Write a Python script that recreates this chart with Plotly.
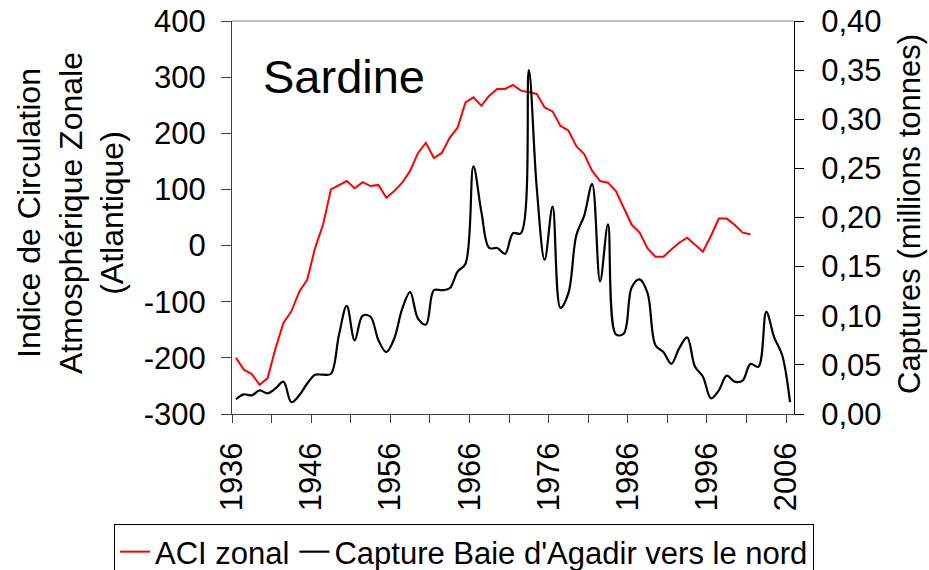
import plotly.graph_objects as go

# ---------------- data ----------------
years_aci = list(range(1936, 2002))
aci_zonal = [-200, -221, -229, -248, -236, -183, -138, -117, -82, -61,
             -4, 37, 100, 108, 115, 102, 113, 106, 108, 85,
             97, 112, 133, 165, 183, 156, 165, 192, 210, 255,
             264, 249, 267, 279, 279, 286, 276, 273, 270, 246,
             239, 213, 205, 177, 163, 133, 115, 112, 97, 67,
             37, 23, -5, -20, -20, -7, 5, 14, 2, -11,
             17, 48, 48, 37, 23, 20]

years_capture = list(range(1936, 2007))
capture = [0.015, 0.020, 0.019, 0.024, 0.021, 0.026, 0.033, 0.012, 0.019, 0.031,
           0.040, 0.040, 0.041, 0.080, 0.110, 0.075, 0.100, 0.099, 0.075, 0.063,
           0.077, 0.107, 0.124, 0.097, 0.091, 0.126, 0.126, 0.128, 0.145, 0.153,
           0.252, 0.206, 0.169, 0.169, 0.163, 0.184, 0.184, 0.350, 0.230, 0.157,
           0.211, 0.108, 0.123, 0.182, 0.202, 0.234, 0.135, 0.193, 0.081, 0.082,
           0.129, 0.137, 0.123, 0.070, 0.063, 0.051, 0.067, 0.078, 0.048, 0.038,
           0.016, 0.024, 0.039, 0.033, 0.034, 0.051, 0.048, 0.104, 0.078, 0.060,
           0.012]

year_labels = ["1936", "1946", "1956", "1966", "1976", "1986", "1996", "2006"]
left_ticks = [-300, -200, -100, 0, 100, 200, 300, 400]
left_ticktext = ["-300", "-200", "-100", "0", "100", "200", "300", "400"]

FONT = "Liberation Sans, Arial, sans-serif"
FS = 31

fig = go.Figure()
fig.add_trace(go.Scatter(x=years_aci, y=aci_zonal, mode="lines", name="ACI zonal",
                         line=dict(color="#ff0000", width=2), yaxis="y"))
fig.add_trace(go.Scatter(x=years_capture, y=capture, mode="lines",
                         name="Capture Baie d'Agadir vers le nord",
                         line=dict(color="#000000", width=2.2, shape="spline", smoothing=1.0),
                         yaxis="y2"))

major_x = [1935.5 + 10 * i for i in range(len(year_labels))]
minor_x = [1940.5 + 10 * i for i in range(7)]

# page body margin is removed by the post script, so figure coords = screen coords
W, H = 929, 570
L, R, T, B = 232, 794, 21, 414
pw, ph = R - L, B - T

def px_x(x):
    return (x - L) / pw

def px_y(y):
    return 1 - (y - T) / ph

fig.update_layout(
    width=W, height=H,
    margin=dict(l=L, r=W - R, t=T, b=H - B, autoexpand=False),
    paper_bgcolor="white", plot_bgcolor="white",
    font=dict(family=FONT, size=FS, color="black"),
    separators=", ",
    showlegend=True,
    hovermode=False,
    legend=dict(orientation="h", x=px_x(114), y=px_y(524), xanchor="left", yanchor="top",
                bordercolor="black", borderwidth=1, font=dict(size=FS),
                bgcolor="white", itemwidth=30),
    xaxis=dict(range=[1935.5, 2006.5], tickmode="array", tickvals=major_x, ticktext=year_labels,
               tickangle=-90, ticks="outside", ticklen=8, tickcolor="#404040", tickwidth=1,
               minor=dict(tickvals=minor_x, ticks="outside", ticklen=8, tickcolor="#404040", tickwidth=1),
               showline=True, linecolor="#404040", linewidth=1, showgrid=False, zeroline=False,
               ticklabelstandoff=7, automargin=False, ticklabeloverflow="allow"),
    yaxis=dict(range=[-300, 400], tickmode="array", tickvals=left_ticks, ticktext=left_ticktext,
               ticks="outside", ticklen=10, tickcolor="#404040", showline=True, linecolor="#404040",
               showgrid=False, zeroline=False, ticklabelstandoff=9, automargin=False,
               ticklabeloverflow="allow"),
    yaxis2=dict(range=[0, 0.40], overlaying="y", side="right", tickmode="linear", tick0=0, dtick=0.05,
                tickformat=".2f", ticks="outside", ticklen=9, tickcolor="black", showline=True,
                linecolor="black", showgrid=False, zeroline=False, ticklabelstandoff=11,
                automargin=False, ticklabeloverflow="allow"),
)

# top border of plot frame
fig.add_shape(type="line", xref="paper", yref="paper", x0=0, x1=1, y0=1, y1=1,
              line=dict(color="#808080", width=1))

fig.add_annotation(text="Sardine", xref="paper", yref="paper", x=px_x(261), y=px_y(76),
                   xanchor="left", yanchor="middle", showarrow=False,
                   font=dict(size=47, family=FONT, color="black"))

fig.add_annotation(text="Indice de Circulation<br>Atmosphérique Zonale<br>(Atlantique)",
                   xref="paper", yref="paper", x=px_x(71), y=px_y(213), textangle=-90,
                   xanchor="center", yanchor="middle", showarrow=False, align="center",
                   font=dict(size=32, family=FONT, color="black"))

fig.add_annotation(text="Captures (millions tonnes)", xref="paper", yref="paper",
                   x=px_x(909), y=px_y(214), textangle=-90, xanchor="center", yanchor="middle",
                   showarrow=False, font=dict(size=FS, family=FONT, color="black"))

fig.write_html("out.html", config={"displayModeBar": False, "staticPlot": True},
               post_script="document.body.style.margin='0';document.body.style.overflow='hidden';")
